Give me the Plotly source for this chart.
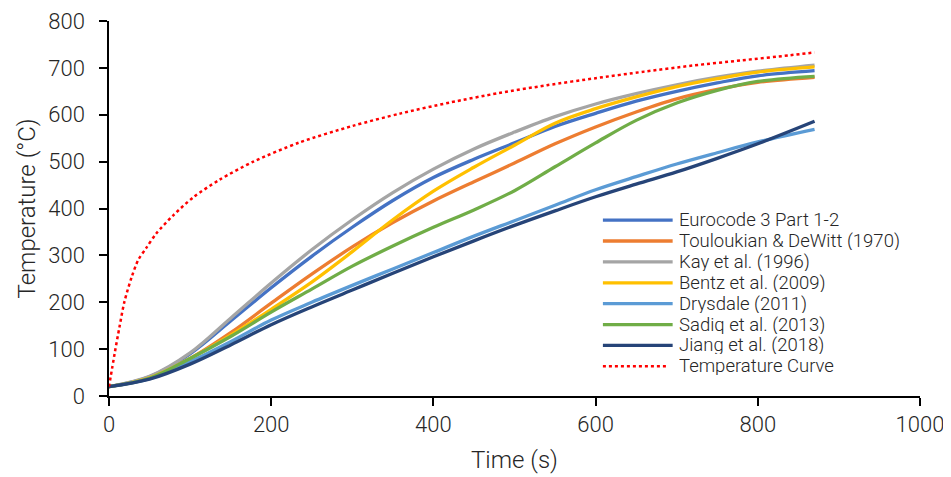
import plotly.graph_objects as go

# Time (s) sample points for the material curves
time_s = [0, 50, 100, 150, 200, 250, 300, 350, 400, 450, 500, 550, 600, 650, 700, 750, 800, 870]

eurocode   = [20, 41, 90, 160, 231, 298, 360, 417, 466, 505, 540, 575, 603, 629, 650, 668, 683, 694]
touloukian = [20, 39, 80, 135, 198, 260, 318, 370, 416, 457, 497, 538, 574, 606, 634, 654, 669, 680]
kay        = [20, 42, 92, 166, 241, 312, 376, 434, 484, 527, 563, 596, 623, 645, 664, 680, 693, 706]
bentz      = [20, 39, 80, 130, 185, 243, 308, 376, 437, 488, 535, 582, 613, 638, 660, 677, 691, 702]
drysdale   = [20, 37, 73, 116, 162, 200, 236, 271, 306, 341, 374, 407, 440, 468, 495, 519, 542, 569]
sadiq      = [20, 38, 80, 127, 179, 228, 277, 320, 360, 397, 438, 489, 540, 588, 625, 652, 671, 682]
jiang      = [20, 36, 68, 109, 152, 190, 226, 262, 297, 331, 364, 395, 425, 452, 478, 507, 538, 586]

# Fire temperature curve
fire_time = [0, 7, 13, 19, 28, 36, 46, 58, 79, 104, 136, 178, 235, 300, 360, 420, 480, 540, 600, 660, 720, 780, 840, 870]
fire_temp = [20, 91, 148, 201, 254, 290, 316, 346, 385, 424, 461, 500, 541, 576, 603, 626, 646, 663, 678, 692, 705, 716, 727, 733]

names = ["Eurocode 3 Part 1-2", "Touloukian & DeWitt (1970)", "Kay et al. (1996)",
         "Bentz et al. (2009)", "Drysdale (2011)", "Sadiq et al. (2013)", "Jiang et al. (2018)"]
series = [eurocode, touloukian, kay, bentz, drysdale, sadiq, jiang]
colors = ["#4472C4", "#ED7D31", "#A5A5A5", "#FFC000", "#5B9BD5", "#70AD47", "#264478"]
fire_name = "Temperature Curve"
fire_color = "#FF0000"

fig = go.Figure()
for name, ys, c in zip(names, series, colors):
    fig.add_trace(go.Scatter(x=time_s, y=ys, mode="lines", name=name, showlegend=False,
                             line=dict(color=c, width=3.3, shape="spline", smoothing=1.0)))
fig.add_trace(go.Scatter(x=fire_time, y=fire_temp, mode="lines", name=fire_name, showlegend=False,
                         line=dict(color=fire_color, width=2.5, dash="dot", shape="spline", smoothing=0.8)))

# Legend drawn as keys + labels (paper coordinates of the plot area)
leg_x0, leg_x1, leg_tx = 0.609, 0.695, 0.702
leg_y0, leg_dy = 0.469, 0.0557
entries = list(zip(names, colors, ["solid"] * len(names), [3.3] * len(names)))
entries.append((fire_name, fire_color, "dot", 2.5))
shapes, annotations = [], []
for i, (name, c, dash, w) in enumerate(entries):
    yy = leg_y0 - i * leg_dy
    x1 = leg_x1 if dash == "solid" else leg_x1 - 0.007
    shapes.append(dict(type="line", xref="paper", yref="paper", x0=leg_x0, x1=x1, y0=yy, y1=yy,
                       line=dict(color=c, width=w, dash=dash)))
    annotations.append(dict(xref="paper", yref="paper", x=leg_tx, y=yy, xanchor="left", yanchor="middle",
                            text=name, showarrow=False, height=18, valign="middle", borderpad=0,
                            font=dict(family="Roboto", size=18.5, color="#262626", weight=300)))

axis_font = dict(family="Roboto", size=22, color="#262626", weight=300)
title_font = dict(family="Roboto", size=24, color="#262626", weight=300)
# The page adds an 8px body margin, so the figure is sized/margined to compensate.
fig.update_layout(
    width=943, height=469,
    margin=dict(l=101, r=31, t=13, b=81),
    paper_bgcolor="white", plot_bgcolor="white",
    font=dict(family="Roboto", color="#262626", weight=300),
    showlegend=False,
    shapes=shapes, annotations=annotations,
    xaxis=dict(range=[0, 1000], dtick=200, showgrid=False, zeroline=False, automargin=False,
               showline=True, linecolor="#000000", linewidth=1.5,
               ticks="outside", ticklen=8, tickwidth=1.5, tickcolor="#000000",
               tickfont=axis_font, ticklabelstandoff=0,
               title=dict(text="Time (s)", font=title_font, standoff=15)),
    yaxis=dict(range=[0, 800], dtick=100, showgrid=False, zeroline=False, automargin=False,
               showline=True, linecolor="#000000", linewidth=1.5,
               ticks="outside", ticklen=8, tickwidth=1.5, tickcolor="#000000",
               tickfont=axis_font, ticklabelstandoff=10,
               title=dict(text="Temperature (°C)", font=title_font, standoff=6)),
)

fig.write_html("out.html")
